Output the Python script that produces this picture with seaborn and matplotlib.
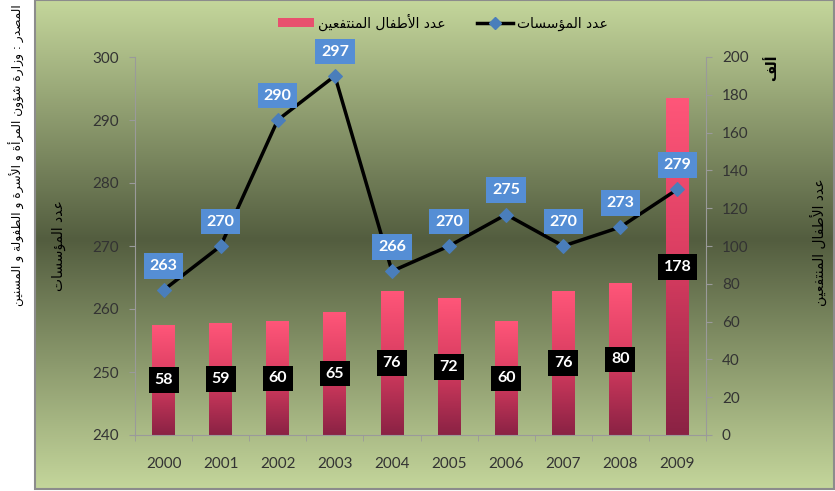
import numpy as np
import pandas as pd
import matplotlib
matplotlib.use("Agg")
import matplotlib.pyplot as plt
import seaborn as sns
from matplotlib.colors import LinearSegmentedColormap
from matplotlib.patches import Rectangle, Patch
from matplotlib.lines import Line2D

# ---------------- data ----------------
years = ["2000", "2001", "2002", "2003", "2004", "2005", "2006", "2007", "2008", "2009"]
institutions = [263, 270, 290, 297, 266, 270, 275, 270, 273, 279]
children = [58, 59, 60, 65, 76, 72, 60, 76, 80, 178]

label_inst = "عدد المؤسسات"
label_children = "عدد الأطفال المنتفعين"
unit_text = "ألف"
source_text = "المصدر : وزارة شؤون المرأة و الأسرة و الطفولة و المسنين"

# ------------- minimal Arabic shaping (matplotlib has no shaping) -------------
_LETTERS = [('ء', 0xFE80, 1), ('آ', 0xFE81, 2), ('أ', 0xFE83, 2), ('ؤ', 0xFE85, 2),
            ('إ', 0xFE87, 2), ('ئ', 0xFE89, 4), ('ا', 0xFE8D, 2), ('ب', 0xFE8F, 4),
            ('ة', 0xFE93, 2), ('ت', 0xFE95, 4), ('ث', 0xFE99, 4), ('ج', 0xFE9D, 4),
            ('ح', 0xFEA1, 4), ('خ', 0xFEA5, 4), ('د', 0xFEA9, 2), ('ذ', 0xFEAB, 2),
            ('ر', 0xFEAD, 2), ('ز', 0xFEAF, 2), ('س', 0xFEB1, 4), ('ش', 0xFEB5, 4),
            ('ص', 0xFEB9, 4), ('ض', 0xFEBD, 4), ('ط', 0xFEC1, 4), ('ظ', 0xFEC5, 4),
            ('ع', 0xFEC9, 4), ('غ', 0xFECD, 4), ('ف', 0xFED1, 4), ('ق', 0xFED5, 4),
            ('ك', 0xFED9, 4), ('ل', 0xFEDD, 4), ('م', 0xFEE1, 4), ('ن', 0xFEE5, 4),
            ('ه', 0xFEE9, 4), ('و', 0xFEED, 2), ('ى', 0xFEEF, 2), ('ي', 0xFEF1, 4)]
_FORMS = {c: (s, k) for c, s, k in _LETTERS}
_LAMALEF = {'آ': 0xFEF5, 'أ': 0xFEF7, 'إ': 0xFEF9, 'ا': 0xFEFB}


def shape(text):
    ch = list(text)
    n = len(ch)
    out = []
    i = 0
    while i < n:
        c = ch[i]
        if c not in _FORMS:
            out.append(c)
            i += 1
            continue
        prev = ch[i - 1] if i > 0 else ''
        conn_prev = prev in _FORMS and _FORMS[prev][1] == 4
        if c == 'ل' and i + 1 < n and ch[i + 1] in _LAMALEF:
            out.append(chr(_LAMALEF[ch[i + 1]] + (1 if conn_prev else 0)))
            i += 2
            continue
        nxt = ch[i + 1] if i + 1 < n else ''
        start, k = _FORMS[c]
        conn_next = k == 4 and nxt in _FORMS and _FORMS[nxt][1] > 1
        if k == 1:
            f = 0
        elif k == 2:
            f = 1 if conn_prev else 0
        else:
            if conn_prev and conn_next:
                f = 3
            elif conn_prev:
                f = 1
            elif conn_next:
                f = 2
            else:
                f = 0
        out.append(chr(start + f))
        i += 1
    return ''.join(out)[::-1]


AR = ['DejaVu Sans']

# ---------------- figure ----------------
plt.rcParams['font.family'] = ['Lato', 'DejaVu Sans']
W, H = 835, 491
fig = plt.figure(figsize=(W / 100, H / 100), dpi=100)
fig.patch.set_facecolor('white')

# background gradient panel
bg = fig.add_axes([35 / W, 2 / H, 800 / W, 489 / H], zorder=0)
bg_cmap = LinearSegmentedColormap.from_list(
    'bg', [(0.0, '#c4d69b'), (0.49, '#535d3f'), (1.0, '#c4d69b')])
grad = np.linspace(0, 1, 256).reshape(-1, 1)
bg.imshow(grad, aspect='auto', cmap=bg_cmap, extent=[0, 1, 0, 1], origin='upper')
bg.set_axis_off()
fig.patches.append(Rectangle((35 / W, 2 / H), 799 / W, 489 / H, transform=fig.transFigure,
                             fill=False, edgecolor='#8c8c8c', linewidth=1.5, zorder=0.5))

# main axes (bars on right scale)
ax = fig.add_axes([135 / W, 56 / H, 571 / W, 378 / H], zorder=1)
ax.patch.set_alpha(0)
df = pd.DataFrame({'year': years, 'children': children, 'inst': institutions})
sns.barplot(data=df, x='year', y='children', ax=ax, width=0.4, color='#e8506e',
            saturation=1, errorbar=None)
ax.set_ylim(0, 200)
ax.set_xlim(-0.5, len(years) - 0.5)

bar_cmap = LinearSegmentedColormap.from_list('bar', ['#8a2244', '#d83c60', '#ff5679'])
col = np.linspace(0, 1, 256).reshape(-1, 1)
for p in ax.patches:
    x0, y0, w, h = p.get_x(), p.get_y(), p.get_width(), p.get_height()
    ax.imshow(col, extent=[x0, x0 + w, y0, y0 + h], origin='lower', aspect='auto',
              cmap=bar_cmap, zorder=p.get_zorder() + 0.1)
ax.set_ylim(0, 200)
ax.set_xlim(-0.5, len(years) - 0.5)

txts = ax.bar_label(ax.containers[0], labels=[str(v) for v in children], label_type='center',
                    color='white', fontsize=11.5, fontweight='bold')
for t in txts:
    t.set_bbox(dict(boxstyle='square,pad=0.36', facecolor='black', edgecolor='none'))
    t.set_zorder(5)

# line on left scale
ax2 = ax.twinx()
sns.lineplot(x=np.arange(len(years)), y=institutions, ax=ax2, color='black', linewidth=2.5,
             marker='D', markersize=7, markerfacecolor='#4a7ebb', markeredgecolor='#4a7ebb')
ax2.set_ylim(240, 300)
for xi, v in enumerate(institutions):
    ax2.annotate(str(v), (xi, v), xytext=(0, 17.5), textcoords='offset points',
                 ha='center', va='center', color='white', fontsize=11.5, fontweight='bold',
                 bbox=dict(boxstyle='square,pad=0.36', facecolor='#558ed5', edgecolor='none'))

# axis sides
ax.yaxis.tick_right()
ax.yaxis.set_label_position('right')
ax2.yaxis.tick_left()
ax2.yaxis.set_label_position('left')

spine_c = '#9a9a9a'
for a in (ax, ax2):
    for s in a.spines.values():
        s.set_visible(False)
ax.spines['right'].set_visible(True)
ax.spines['right'].set_color(spine_c)
ax.spines['bottom'].set_visible(True)
ax.spines['bottom'].set_color(spine_c)
ax2.spines['left'].set_visible(True)
ax2.spines['left'].set_color(spine_c)

tick_c = '#333333'
ax.set_yticks(np.arange(0, 201, 20))
ax.tick_params(axis='y', direction='out', length=4.5, color=spine_c, pad=7,
               labelsize=11, labelcolor=tick_c)
ax2.set_yticks(np.arange(240, 301, 10))
ax2.tick_params(axis='y', direction='out', length=4.5, color=spine_c, pad=7,
                labelsize=11, labelcolor=tick_c)
ax2.set_xticks([])
ax.set_xticks(np.arange(len(years)))
ax.set_xticklabels(years)
ax.set_xticks(np.arange(-0.5, len(years), 1), minor=True)
ax.tick_params(axis='x', which='major', length=0, pad=16, labelsize=11, labelcolor=tick_c)
ax.tick_params(axis='x', which='minor', length=4.5, color=spine_c, direction='out')
ax.set_xlabel('')

ax2.set_ylabel(shape(label_inst), family=AR, fontsize=10, rotation=90)
ax2.yaxis.set_label_coords((66 - 135) / 571, 0.5)
ax.set_ylabel(shape(label_children), family=AR, fontsize=10, rotation=90)
ax.yaxis.set_label_coords((810 - 135) / 571, 0.51)

fig.text(772 / W, 1 - 68 / H, shape(unit_text), family=AR, fontsize=10, fontweight='bold',
         rotation=90, ha='center', va='center')
src = fig.text(17 / W, 1 - 4 / H, shape(source_text), family=AR, fontsize=11,
               rotation=90, ha='center', va='top')
# fit the source note to roughly the length it has in the reference
fig.canvas.draw()
ext = src.get_window_extent(fig.canvas.get_renderer())
src.set_fontsize(11 * 300.0 / max(ext.height, 1))

# legend
handles = [Patch(facecolor='#e8506e', edgecolor='none'),
           Line2D([0], [0], color='black', linewidth=2.5, marker='D', markersize=6,
                  markerfacecolor='#4a7ebb', markeredgecolor='#4a7ebb')]
leg = fig.legend(handles, [shape(label_children), shape(label_inst)], ncol=2,
                 loc='center', bbox_to_anchor=(443 / W, 1 - 22 / H), frameon=False,
                 prop={'family': AR, 'size': 10}, handlelength=2.6, handleheight=0.6,
                 columnspacing=2.2, handletextpad=0.3)

fig.savefig('out.png', dpi=100)
